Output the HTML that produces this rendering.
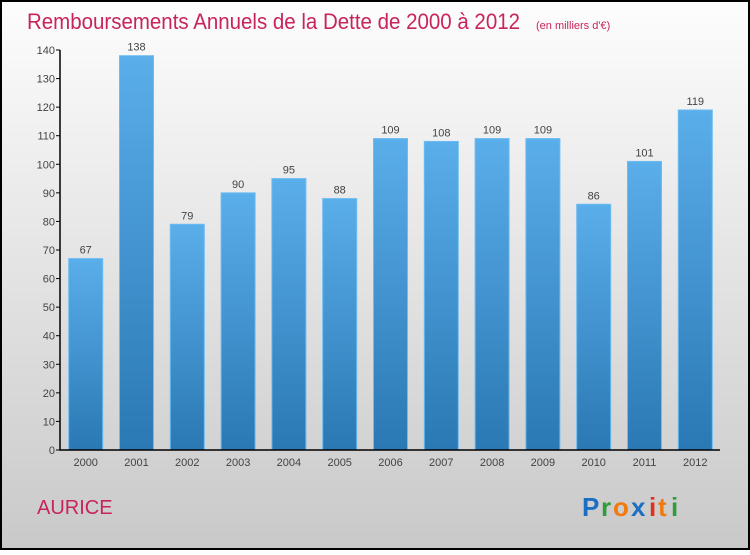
<!DOCTYPE html>
<html><head><meta charset="utf-8"><style>
body{margin:0;width:750px;height:550px;overflow:hidden;font-family:"Liberation Sans",sans-serif}
</style></head><body>
<svg width="750" height="550">
<defs>
<linearGradient id="bg" x1="0" y1="0" x2="0" y2="1"><stop offset="0" stop-color="#fdfdfd"/><stop offset="1" stop-color="#c9c9c9"/></linearGradient>
<linearGradient id="bar" x1="0" y1="0" x2="0" y2="1"><stop offset="0" stop-color="#5aaeea"/><stop offset="1" stop-color="#2a78b4"/></linearGradient>
</defs>
<rect x="1" y="1" width="748" height="548" fill="url(#bg)" stroke="#000" stroke-width="2"/>
<text x="27" y="29" font-size="22" fill="#c8245c" textLength="493" lengthAdjust="spacingAndGlyphs">Remboursements Annuels de la Dette de 2000 à 2012</text>
<text x="536" y="29" font-size="11" fill="#c8245c">(en milliers d'€)</text>
<g id="yaxis"></g><g id="bars"></g>
<text x="37" y="514" font-size="20" fill="#c8245c">AURICE</text>
<g font-size="26" font-weight="bold">
<text x="582" y="516" fill="#1a6fc4">P</text><text x="601" y="516" fill="#2e9e3a">r</text><text x="613" y="516" fill="#f07a10">o</text><text x="631" y="516" fill="#1a6fc4">x</text><text x="649" y="516" fill="#e0301e">i</text><text x="658" y="516" fill="#f07a10">t</text><text x="671" y="516" fill="#2e9e3a">i</text></g>
</svg>
<script>
const categories=["2000","2001","2002","2003","2004","2005","2006","2007","2008","2009","2010","2011","2012"];
const values=[67,138,79,90,95,88,109,108,109,109,86,101,119];
const yTicks=[0,10,20,30,40,50,60,70,80,90,100,110,120,130,140];
const NS="http://www.w3.org/2000/svg";
const y0=450,y1=50,vmax=140,x0=60,xEnd=720;
const ys=v=>y0-(v/vmax)*(y0-y1);
const step=50.8,first=85.7,bw=34;
const xs=i=>first+i*step;
function mk(t,a,p){const e=document.createElementNS(NS,t);for(const k in a)e.setAttribute(k,a[k]);p.appendChild(e);return e;}
const ya=document.getElementById('yaxis'),bg=document.getElementById('bars');
yTicks.forEach(t=>{
 const l=mk('line',{x1:x0-4,x2:x0,y1:ys(t),y2:ys(t),stroke:'#000'},ya);
 
 
 const tx=mk('text',{x:x0-5,y:ys(t)+4,'font-size':11,fill:'#444','text-anchor':'end'},ya);tx.textContent=t;
 
 
});
categories.forEach((c,i)=>{
 const v=values[i],x=xs(i);
 const r=mk('rect',{x:x-bw/2,y:ys(v),width:bw,height:y0-ys(v),fill:'url(#bar)',stroke:'#6bbcf2','stroke-width':1},bg);
 
 
 const vl=mk('text',{x:x,y:ys(v)-5,'font-size':11,fill:'#444','text-anchor':'middle'},bg);vl.textContent=v;
 
 
 const xl=mk('text',{x:x,y:466,'font-size':11,fill:'#444','text-anchor':'middle'},bg);xl.textContent=c;
 
 
});
const ax=mk('path',{d:`M${x0} ${y1} V${y0} H${xEnd}`,stroke:'#000','stroke-width':1.5,fill:'none'},bg);


</script>
</body></html>
